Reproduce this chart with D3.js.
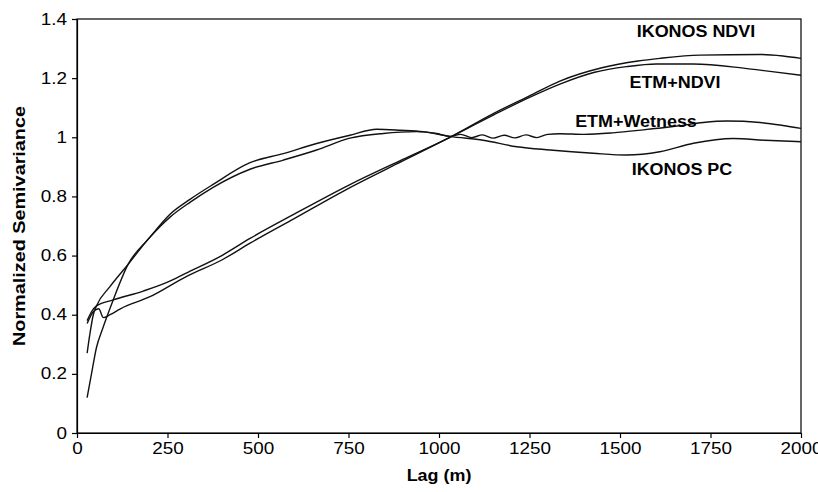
<!DOCTYPE html>
<html><head><meta charset="utf-8">
<script src="https://cdn.jsdelivr.net/npm/d3@7"></script>
<style>body{margin:0;background:#fff}svg{display:block}</style>
</head><body><svg id="c" width="818" height="492"></svg>
<script>
const xTicks = [0,250,500,750,1000,1250,1500,1750,2000];
const yTicks = [0,0.2,0.4,0.6,0.8,1,1.2,1.4];

const pcLag = [28,40,54,70,100,141,200,257,312,375,478,570,662,754,828,892,957,1030,1122,1215,1307,1426,1518,1610,1703,1813,1900,2000];
const pcVal = [0.12,0.20,0.29,0.35,0.45,0.57,0.66,0.74,0.79,0.84,0.914,0.945,0.979,1.007,1.027,1.024,1.019,1.003,0.99,0.968,0.957,0.946,0.94,0.951,0.98,0.996,0.99,0.985];

const wetLag = [28,35,45,54,91,141,200,257,312,375,478,570,662,754,846,938,994,1030,1060,1090,1120,1150,1180,1210,1240,1270,1300,1334,1400,1480,1564,1657,1730,1795,1887,1950,2000];
const wetVal = [0.27,0.33,0.40,0.43,0.495,0.57,0.66,0.73,0.78,0.83,0.892,0.923,0.957,0.997,1.013,1.019,1.013,1.003,1.01,0.999,1.008,0.997,1.007,0.998,1.008,0.999,1.01,1.012,1.01,1.015,1.025,1.038,1.05,1.055,1.05,1.04,1.03];

const ikNdviLag = [28,40,54,100,183,250,300,400,478,600,754,900,1030,1150,1250,1334,1450,1550,1610,1721,1887,1950,2000];
const ikNdviVal = [0.38,0.41,0.43,0.45,0.48,0.51,0.54,0.60,0.658,0.74,0.84,0.925,1.0,1.08,1.14,1.19,1.235,1.258,1.267,1.278,1.28,1.275,1.267];

const etmNdviLag = [28,45,60,73,91,120,200,303,400,478,600,754,900,1030,1150,1250,1334,1430,1518,1600,1703,1841,1920,2000];
const etmNdviVal = [0.37,0.41,0.42,0.39,0.40,0.42,0.46,0.53,0.585,0.642,0.725,0.83,0.92,1.0,1.075,1.135,1.18,1.22,1.239,1.248,1.248,1.234,1.222,1.21];

const seriesNames = ["IKONOS NDVI","ETM+NDVI","ETM+Wetness","IKONOS PC"];

const svg = d3.select("#c");
const m = {l:77, r:17, t:19, b:59};
const W = 818, H = 492;
const x = d3.scaleLinear().domain([0,2000]).range([m.l, W-m.r]);
const y = d3.scaleLinear().domain([0,1.4]).range([H-m.b, m.t]);

const font = "Arial, 'Liberation Sans', sans-serif";
function stretch(sel, sx){
  sel.each(function(){
    const w = this.getComputedTextLength();
    d3.select(this).attr("textLength", w*sx).attr("lengthAdjust","spacingAndGlyphs");
  });
}

// frame
svg.append("rect").attr("x",m.l).attr("y",m.t).attr("width",W-m.l-m.r).attr("height",H-m.t-m.b)
  .attr("fill","none").attr("stroke","#000").attr("stroke-width",1.2);

const xa = svg.append("g").attr("transform",`translate(0,${H-m.b})`)
  .call(d3.axisBottom(x).tickValues(xTicks).tickSize(5).tickSizeOuter(0).tickPadding(5).tickFormat(d3.format("d")));
const ya = svg.append("g").attr("transform",`translate(${m.l},0)`)
  .call(d3.axisLeft(y).tickValues(yTicks).tickSize(5).tickSizeOuter(0).tickPadding(5).tickFormat(d=>String(+d.toFixed(1))));
[xa,ya].forEach(a=>{
  a.selectAll("path,line").attr("stroke","#000").attr("stroke-width",1.2);
  a.selectAll("text").attr("font-family",font).attr("font-size",16).attr("fill","#000");
  stretch(a.selectAll("text"), 1.18);
});

const line = d3.line().x(d=>x(d[0])).y(d=>y(d[1])).curve(d3.curveMonotoneX);
const data = [
  d3.zip(ikNdviLag, ikNdviVal),
  d3.zip(etmNdviLag, etmNdviVal),
  d3.zip(wetLag, wetVal),
  d3.zip(pcLag, pcVal)
];
svg.append("g").selectAll("path").data(data).join("path")
  .attr("d",line).attr("fill","none").attr("stroke","#111").attr("stroke-width",1.4);

// labels
const labelPos = [[696,31],[675,82],[636,121],[682,169]];
const lab = svg.append("g").selectAll("text").data(seriesNames).join("text")
  .attr("x",(d,i)=>labelPos[i][0]).attr("y",(d,i)=>labelPos[i][1])
  .attr("text-anchor","middle").attr("dominant-baseline","central")
  .attr("font-family",font).attr("font-weight","bold").attr("font-size",16).attr("fill","#000")
  .text(d=>d);
stretch(lab, 1.12);

const xt = svg.append("text").attr("x",439).attr("y",475).attr("text-anchor","middle")
  .attr("dominant-baseline","central").attr("font-family",font).attr("font-weight","bold").attr("font-size",16)
  .text("Lag (m)");
stretch(xt, 1.12);
svg.append("text").attr("transform",`translate(19,${(m.t+H-m.b)/2}) rotate(-90)`).attr("text-anchor","middle")
  .attr("dominant-baseline","central").attr("font-family",font).attr("font-weight","bold").attr("font-size",17)
  .attr("textLength",240).attr("lengthAdjust","spacingAndGlyphs")
  .text("Normalized Semivariance");
</script></body></html>
